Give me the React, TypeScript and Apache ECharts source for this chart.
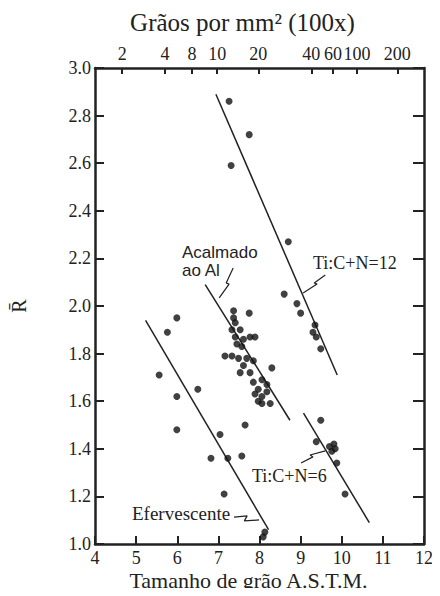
import React, { useEffect, useRef } from "react";
import * as echarts from "echarts";

// Bottom axis: ASTM grain size; left axis: R-bar
const xTicks = [4, 5, 6, 7, 8, 9, 10, 11, 12];
const yTicks = [1.0, 1.2, 1.4, 1.6, 1.8, 2.0, 2.2, 2.4, 2.6, 2.8, 3.0];

// Top axis: grains per mm² (100x), placed at equivalent ASTM sizes
const topTickLabels = ["2", "4", "8", "10", "20", "40", "60", "100", "200"];
const topTickAstm = [4.66, 5.7, 6.36, 6.97, 7.97, 9.26, 9.79, 10.37, 11.35];

// Data points [ASTM size, R-bar]
const ti12Points = [
  [7.26, 2.86], [7.75, 2.72], [7.31, 2.59], [8.7, 2.27], [8.6, 2.05],
  [8.91, 2.01], [9.0, 1.97], [9.35, 1.92], [9.3, 1.89], [9.38, 1.87], [9.49, 1.82],
];
const acalmadoPoints = [
  [7.37, 1.98], [7.75, 1.97], [7.37, 1.95], [7.41, 1.93], [7.33, 1.9], [7.53, 1.9],
  [7.41, 1.87], [7.61, 1.86], [7.77, 1.87], [7.89, 1.87], [7.45, 1.84], [7.57, 1.83],
  [7.16, 1.79], [7.33, 1.79], [7.49, 1.78], [7.69, 1.78], [7.85, 1.77], [7.61, 1.75],
  [7.53, 1.72], [7.77, 1.72], [8.3, 1.74], [7.85, 1.68], [8.06, 1.69], [8.18, 1.67],
  [7.97, 1.65], [7.89, 1.63], [8.06, 1.62], [8.18, 1.64], [7.97, 1.6], [8.26, 1.59],
  [8.06, 1.59], [7.65, 1.5], [7.57, 1.37],
];
const efervescentePoints = [
  [5.99, 1.95], [5.76, 1.89], [5.56, 1.71], [6.5, 1.65], [5.99, 1.62], [5.99, 1.48],
  [7.04, 1.46], [6.82, 1.36], [7.23, 1.36], [7.14, 1.21], [8.09, 1.03], [8.13, 1.05],
];
const ti6Points = [
  [9.49, 1.52], [9.38, 1.43], [9.7, 1.41], [9.81, 1.42], [9.84, 1.4], [9.76, 1.39],
  [9.88, 1.34], [10.08, 1.21],
];

// Fitted lines (end points)
const ti12Line = [[6.94, 2.89], [9.89, 1.71]];
const acalmadoLine = [[6.68, 2.09], [8.74, 1.52]];
const efervescenteLine = [[5.23, 1.94], [8.22, 1.06]];
const ti6Line = [[9.07, 1.55], [10.67, 1.09]];

// Zig-zag leader lines for the annotations
const acalmadoLeader = [[7.36, 2.16], [7.19, 2.097], [7.26, 2.092], [7.02, 2.034]];
const ti12Leader = [[9.6, 2.13], [9.33, 2.097], [9.4, 2.092], [9.06, 2.055]];
const ti6Leader = [[9.01, 1.34], [9.3, 1.366], [9.23, 1.374], [9.6, 1.391]];
const efervescenteLeader = [[7.38, 1.113], [7.7, 1.118], [7.63, 1.097], [7.99, 1.101]];

const SERIF = "Liberation Serif, DejaVu Serif, serif";
const SANS = "Liberation Sans, Arial, sans-serif";
const INK = "#222";

export default function App() {
  const ref = useRef<HTMLDivElement>(null);

  useEffect(() => {
    if (!ref.current) return;
    const chart = echarts.init(ref.current, null, { renderer: "svg" });

    const lineSeries = (data: number[][], width = 1.5) => ({
      type: "line",
      data,
      showSymbol: false,
      symbol: "none",
      silent: true,
      lineStyle: { color: INK, width },
      xAxisIndex: 0,
      yAxisIndex: 0,
      z: 3,
    });
    const scatterSeries = (data: number[][]) => ({
      type: "scatter",
      data,
      symbol: "circle",
      symbolSize: 7,
      itemStyle: { color: "#111" },
      xAxisIndex: 0,
      yAxisIndex: 0,
      z: 4,
    });

    chart.setOption({
      animation: false,
      backgroundColor: "#fff",
      textStyle: { fontFamily: SERIF },
      grid: {
        left: 95,
        right: 16,
        top: 68,
        bottom: 52,
        containLabel: false,
        outerBoundsMode: "none",
      },
      xAxis: [
        {
          type: "value",
          position: "bottom",
          min: xTicks[0],
          max: xTicks[xTicks.length - 1],
          interval: 1,
          name: "Tamanho de grão A.S.T.M.",
          nameLocation: "middle",
          nameGap: 25,
          nameMoveOverlap: false,
          nameTextStyle: { fontFamily: SERIF, fontSize: 22, color: INK, padding: [0, 22, 0, 0] },
          axisLine: { show: true, onZero: false, lineStyle: { color: INK, width: 2.5 } },
          axisTick: { show: true, inside: true, length: 8, lineStyle: { color: INK, width: 2 } },
          axisLabel: { fontFamily: SERIF, fontSize: 18, color: INK, margin: 5 },
          splitLine: { show: false },
        },
        {
          type: "value",
          position: "top",
          min: xTicks[0],
          max: xTicks[xTicks.length - 1],
          name: "Grãos por mm² (100x)",
          nameLocation: "middle",
          nameGap: 33,
          nameMoveOverlap: false,
          nameTextStyle: { fontFamily: SERIF, fontSize: 25, color: INK, padding: [0, 34, 0, 0] },
          axisLine: { show: true, onZero: false, lineStyle: { color: INK, width: 2.5 } },
          axisTick: {
            show: true,
            inside: true,
            length: 6,
            customValues: topTickAstm,
            lineStyle: { color: INK, width: 2 },
          },
          axisLabel: {
            fontFamily: SERIF,
            fontSize: 18,
            color: INK,
            margin: 5,
            customValues: topTickAstm,
            formatter: (v: number) => {
              const i = topTickAstm.findIndex((t) => Math.abs(t - v) < 1e-6);
              return i >= 0 ? topTickLabels[i] : "";
            },
          },
          splitLine: { show: false },
        },
      ],
      yAxis: [
        {
          type: "value",
          position: "left",
          min: yTicks[0],
          max: yTicks[yTicks.length - 1],
          interval: 0.2,
          name: "R̄",
          nameLocation: "middle",
          nameRotate: 90,
          nameGap: 66,
          nameMoveOverlap: false,
          nameTextStyle: { fontFamily: SERIF, fontSize: 20, color: INK },
          axisLine: { show: true, onZero: false, lineStyle: { color: INK, width: 2.5 } },
          axisTick: { show: true, inside: true, length: 9, lineStyle: { color: INK, width: 2 } },
          axisLabel: {
            fontFamily: SERIF,
            fontSize: 18,
            color: INK,
            margin: 4,
            formatter: (v: number) => v.toFixed(1),
          },
          splitLine: { show: false },
        },
        {
          type: "value",
          position: "right",
          min: yTicks[0],
          max: yTicks[yTicks.length - 1],
          interval: 0.2,
          axisLine: { show: true, onZero: false, lineStyle: { color: INK, width: 2.5 } },
          axisTick: { show: true, inside: true, length: 11, lineStyle: { color: INK, width: 2 } },
          axisLabel: { show: false },
          splitLine: { show: false },
        },
      ],
      series: [
        lineSeries(ti12Line),
        lineSeries(acalmadoLine),
        lineSeries(efervescenteLine),
        lineSeries(ti6Line),
        lineSeries(acalmadoLeader, 1.2),
        lineSeries(ti12Leader, 1.2),
        lineSeries(ti6Leader, 1.2),
        lineSeries(efervescenteLeader, 1.2),
        scatterSeries(ti12Points),
        scatterSeries(acalmadoPoints),
        scatterSeries(efervescentePoints),
        scatterSeries(ti6Points),
      ],
      graphic: [
        {
          type: "text",
          x: 182,
          y: 252,
          style: { text: "Acalmado", fontFamily: SANS, fontSize: 17, fill: INK, textVerticalAlign: "middle" },
        },
        {
          type: "text",
          x: 182,
          y: 270,
          style: { text: "ao Al", fontFamily: SANS, fontSize: 17, fill: INK, textVerticalAlign: "middle" },
        },
        {
          type: "text",
          x: 313,
          y: 263,
          style: { text: "Ti:C+N=12", fontFamily: SERIF, fontSize: 18, fill: INK, textVerticalAlign: "middle" },
        },
        {
          type: "text",
          x: 252,
          y: 476,
          style: { text: "Ti:C+N=6", fontFamily: SERIF, fontSize: 18, fill: INK, textVerticalAlign: "middle" },
        },
        {
          type: "text",
          x: 132,
          y: 513,
          style: { text: "Efervescente", fontFamily: SERIF, fontSize: 19, fill: INK, textVerticalAlign: "middle" },
        },
      ],
    });

    return () => chart.dispose();
  }, []);

  return <div ref={ref} style={{ width: 440, height: 596, margin: -8 }} />;
}
